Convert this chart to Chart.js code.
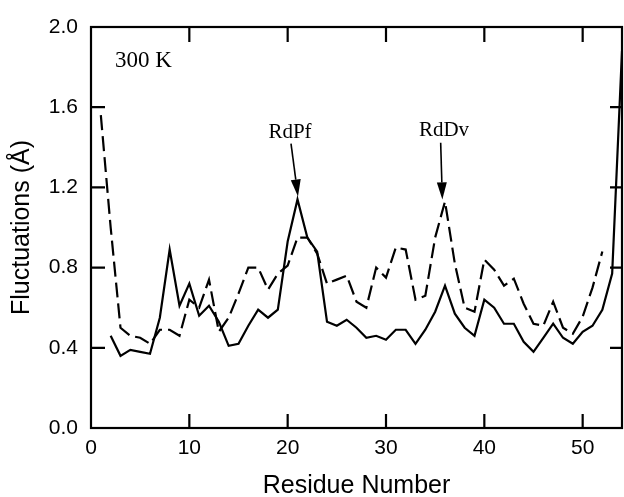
<!DOCTYPE html>
<html>
<head>
<meta charset="utf-8">
<script src="https://cdn.jsdelivr.net/npm/chart.js@4/dist/chart.umd.min.js"></script>
<style>html,body{margin:0;padding:0;background:#fff;}canvas{display:block;}</style>
</head>
<body>
<canvas id="c" width="624" height="497"></canvas>
<script>
// ---- data ----
const residues = [1,2,3,4,5,6,7,8,9,10,11,12,13,14,15,16,17,18,19,20,21,22,23,24,25,26,27,28,29,30,31,32,33,34,35,36,37,38,39,40,41,42,43,44,45,46,47,48,49,50,51,52,53,54];
// solid line (RdPf)
const rdPf = [null,0.46,0.36,0.39,0.38,0.37,0.55,0.89,0.61,0.72,0.56,0.61,0.53,0.41,0.42,0.51,0.59,0.55,0.59,0.93,1.14,0.95,0.88,0.53,0.51,0.54,0.50,0.45,0.46,0.44,0.49,0.49,0.42,0.49,0.58,0.71,0.57,0.50,0.46,0.64,0.60,0.52,0.52,0.43,0.38,0.45,0.52,0.45,0.42,0.48,0.51,0.59,0.77,1.88];
// dashed line (RdDv)
const rdDv = [1.56,1.00,0.50,0.46,0.45,0.42,0.49,0.49,0.46,0.64,0.60,0.74,0.48,0.55,0.67,0.80,0.80,0.69,0.77,0.81,0.95,0.95,0.87,0.72,0.74,0.76,0.63,0.60,0.80,0.75,0.90,0.89,0.64,0.66,0.95,1.13,0.82,0.60,0.58,0.84,0.79,0.71,0.745,0.62,0.52,0.51,0.63,0.50,0.47,0.555,0.70,0.88,null,null];
const xTickValues = [0,10,20,30,40,50];
const yTickValues = [0.0,0.4,0.8,1.2,1.6,2.0];
const xTitle = 'Residue Number';
const yTitle = 'Fluctuations (Å)';
const tempLabel = '300 K';
const peakNames = ['RdPf','RdDv'];

// annotation placement (data coordinates)
const tempPos = {x:2.44, y:1.833};
const peakText = [{x:20.24, y:1.473},{x:35.9, y:1.483}];
const peakTail = [{x:20.34, y:1.418},{x:35.56, y:1.423}];
const peakTip  = [{x:21.05, y:1.155},{x:35.73, y:1.14}];

const toXY = vals => residues.map((r,i)=>({x:r, y:vals[i]}));

const framePlugin = {
  id:'frame',
  afterDatasetsDraw(chart){
    const {ctx, chartArea:a, scales:{x,y}} = chart;
    ctx.save();
    ctx.strokeStyle='#000';
    ctx.lineWidth=2.2;
    ctx.strokeRect(a.left,a.top,a.right-a.left,a.bottom-a.top);
    ctx.beginPath();
    xTickValues.forEach(v=>{
      if(v<=x.min||v>=x.max) return;
      const px=x.getPixelForValue(v);
      ctx.moveTo(px,a.bottom); ctx.lineTo(px,a.bottom-14);
      ctx.moveTo(px,a.top); ctx.lineTo(px,a.top+15);
    });
    yTickValues.forEach(v=>{
      if(v<=y.min||v>=y.max) return;
      const py=y.getPixelForValue(v);
      ctx.moveTo(a.left,py); ctx.lineTo(a.left+14,py);
      ctx.moveTo(a.right,py); ctx.lineTo(a.right-12,py);
    });
    ctx.stroke();

    ctx.fillStyle='#000';
    ctx.textBaseline='middle';
    ctx.textAlign='left';
    ctx.font='23px "Liberation Serif"';
    ctx.fillText(tempLabel, x.getPixelForValue(tempPos.x), y.getPixelForValue(tempPos.y));
    ctx.font='21px "Liberation Serif"';
    ctx.textAlign='center';
    peakNames.forEach((name,i)=>{
      ctx.fillText(name, x.getPixelForValue(peakText[i].x), y.getPixelForValue(peakText[i].y));
      const x0=x.getPixelForValue(peakTail[i].x), y0=y.getPixelForValue(peakTail[i].y);
      const x1=x.getPixelForValue(peakTip[i].x), y1=y.getPixelForValue(peakTip[i].y);
      const ang=Math.atan2(y1-y0,x1-x0);
      const L=17, W=5;
      const bx=x1-L*Math.cos(ang), by=y1-L*Math.sin(ang);
      ctx.lineWidth=1.6;
      ctx.beginPath(); ctx.moveTo(x0,y0); ctx.lineTo(bx,by); ctx.stroke();
      ctx.beginPath();
      ctx.moveTo(x1,y1);
      ctx.lineTo(bx+W*Math.sin(ang), by-W*Math.cos(ang));
      ctx.lineTo(bx-W*Math.sin(ang), by+W*Math.cos(ang));
      ctx.closePath(); ctx.fill();
    });
    ctx.restore();
  }
};

new Chart(document.getElementById('c'), {
  type:'line',
  data:{
    datasets:[
      {label:'RdDv', data:toXY(rdDv), borderColor:'#000', borderWidth:2.2, borderDash:[15,6], pointRadius:0, tension:0, fill:false, spanGaps:false},
      {label:'RdPf', data:toXY(rdPf), borderColor:'#000', borderWidth:2.2, pointRadius:0, tension:0, fill:false, spanGaps:false}
    ]
  },
  options:{
    responsive:false,
    animation:false,
    devicePixelRatio:1,
    layout:{padding:{left:0,right:2,top:27,bottom:0}},
    plugins:{legend:{display:false}, tooltip:{enabled:false}},
    scales:{
      x:{
        type:'linear', min:0, max:54,
        afterBuildTicks:s=>{s.ticks=xTickValues.map(v=>({value:v}));},
        afterFit:s=>{s.height=69;},
        grid:{display:false, drawTicks:false},
        border:{display:false},
        ticks:{color:'#000', padding:8, maxRotation:0, font:{family:'"Liberation Sans", Arial', size:21}, callback:v=>String(v)},
        title:{display:true, text:xTitle, color:'#000', font:{family:'"Liberation Sans", Arial', size:25, lineHeight:1}, padding:{top:0,bottom:-1.5}}
      },
      y:{
        type:'linear', min:0, max:2,
        afterBuildTicks:s=>{s.ticks=yTickValues.map(v=>({value:v}));},
        afterFit:s=>{s.width=91;},
        grid:{display:false, drawTicks:false},
        border:{display:false},
        ticks:{color:'#000', padding:13, font:{family:'"Liberation Sans", Arial', size:21}, callback:v=>Number(v).toFixed(1)},
        title:{display:true, text:yTitle, color:'#000', font:{family:'"Liberation Sans", Arial', size:25, lineHeight:1}, padding:{top:10,bottom:0}}
      }
    }
  },
  plugins:[framePlugin]
});
</script>
</body>
</html>
